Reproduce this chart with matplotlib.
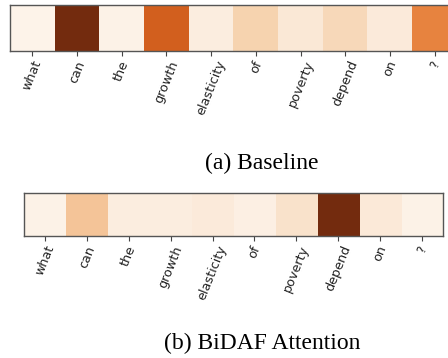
import numpy as np
import matplotlib as mpl
mpl.use('Agg')
import matplotlib.pyplot as plt
from matplotlib.colors import ListedColormap

words = ['what', 'can', 'the', 'growth', 'elasticity', 'of', 'poverty', 'depend', 'on', '?']
baseline_att = [0.02, 1.0, 0.03, 0.68, 0.07, 0.24, 0.11, 0.21, 0.09, 0.55]
bidaf_att = [0.03, 0.30, 0.07, 0.07, 0.09, 0.05, 0.15, 1.0, 0.10, 0.03]

W, H = 448, 358

# Oranges, a bit washed out like the scanned figure
base = plt.get_cmap('Oranges')(np.linspace(0, 1, 256))[:, :3]
lum = base @ np.array([0.299, 0.587, 0.114])
muted = 0.82 * base + 0.18 * lum[:, None]
cmap = ListedColormap(muted)

fig = plt.figure(figsize=(W / 100, H / 100), dpi=100)


def heat(rect, vals, caption, cap_y):
    x0, y0, x1, y1 = rect
    ax = fig.add_axes([x0 / W, 1 - y1 / H, (x1 - x0) / W, (y1 - y0) / H])
    ax.imshow(np.array(vals)[None, :], cmap=cmap, vmin=0, vmax=1, aspect='auto')
    ax.set_xticks(np.arange(len(words)))
    ax.set_xticklabels(words, rotation=68, fontsize=9.2, color='#222222')
    ax.set_yticks([])
    ax.tick_params(axis='x', length=3.5, color='#444444', pad=2)
    for s in ax.spines.values():
        s.set_color('#555555')
        s.set_linewidth(1.0)
    fig.text(262 / W, 1 - cap_y / H, caption, ha='center', va='center',
             fontsize=17, family='Liberation Serif')
    return ax


heat((10, 5, 457, 51), baseline_att, '(a) Baseline', 163)
heat((24, 193, 443, 236), bidaf_att, '(b) BiDAF Attention', 343)

fig.savefig('out.png', dpi=100)
